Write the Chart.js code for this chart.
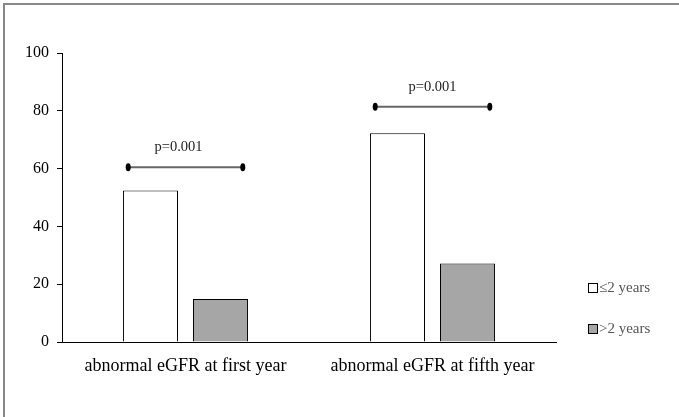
<!DOCTYPE html>
<html>
<head>
<meta charset="utf-8">
<script src="https://cdn.jsdelivr.net/npm/chart.js@4"></script>
<style>
  html, body { margin: 0; padding: 0; background: #fff; }
  #wrap { width: 679px; height: 417px; }
</style>
</head>
<body>
<div id="wrap"><canvas id="eGFRChart" width="679" height="417"></canvas></div>
<script>
const categories = ['abnormal eGFR at first year', 'abnormal eGFR at fifth year'];
const seriesLabels = ['\u22642 years', '>2 years'];
const shortTerm = [52.4, 72.2];
const longTerm = [14.9, 27.2];
const yTicks = [0, 20, 40, 60, 80, 100];
const pLabels = ['p=0.001', 'p=0.001'];
const pLevels = [60.5, 81.4];

const serif = "'Liberation Serif', 'Times New Roman', serif";

// top/left frame line
const framePlugin = {
  id: 'frame',
  beforeDraw(chart) {
    const ctx = chart.ctx;
    ctx.save();
    ctx.strokeStyle = '#888';
    ctx.lineWidth = 2;
    ctx.beginPath();
    ctx.moveTo(4, chart.height);
    ctx.lineTo(4, 4);
    ctx.lineTo(chart.width, 4);
    ctx.stroke();
    ctx.restore();
  }
};

// significance brackets with p values
const sigPlugin = {
  id: 'sig',
  afterDatasetsDraw(chart) {
    const ctx = chart.ctx;
    const x = chart.scales.x, y = chart.scales.y;
    const half = (x.getPixelForValue(1) - x.getPixelForValue(0)) * 0.232;
    ctx.save();
    pLevels.forEach((lvl, i) => {
      const cx = x.getPixelForValue(i);
      const py = y.getPixelForValue(lvl);
      const x0 = cx - half, x1 = cx + half;
      ctx.strokeStyle = '#666';
      ctx.lineWidth = 2;
      ctx.beginPath();
      ctx.moveTo(x0, py);
      ctx.lineTo(x1, py);
      ctx.stroke();
      ctx.fillStyle = '#000';
      [x0, x1].forEach(ex => {
        ctx.beginPath();
        ctx.ellipse(ex, py, 2.5, 4, 0, 0, Math.PI * 2);
        ctx.fill();
      });
      ctx.fillStyle = '#222';
      ctx.font = '14.5px ' + serif;
      ctx.textAlign = 'center';
      ctx.textBaseline = 'middle';
      ctx.fillText(pLabels[i], cx - 7 + i * 7, py - 20);
    });
    ctx.restore();
  }
};

// legend at the lower right
const legendPlugin = {
  id: 'sideLegend',
  afterDraw(chart) {
    const ctx = chart.ctx;
    ctx.save();
    chart.data.datasets.forEach((ds, i) => {
      const top = 284 + i * 41;
      ctx.fillStyle = ds.backgroundColor;
      ctx.fillRect(589, top, 8, 8);
      ctx.strokeStyle = '#000';
      ctx.lineWidth = 1;
      ctx.strokeRect(588.5, top - 0.5, 9, 9);
      ctx.fillStyle = '#555';
      ctx.font = '15px ' + serif;
      ctx.textAlign = 'left';
      ctx.textBaseline = 'middle';
      ctx.fillText(ds.label, 599, top + 4);
    });
    ctx.restore();
  }
};

new Chart(document.getElementById('eGFRChart'), {
  type: 'bar',
  data: {
    labels: categories,
    datasets: [
      {
        label: seriesLabels[0],
        data: shortTerm,
        backgroundColor: '#ffffff',
        borderColor: '#000',
        borderWidth: 1,
        categoryPercentage: 0.567,
        barPercentage: 0.786
      },
      {
        label: seriesLabels[1],
        data: longTerm,
        backgroundColor: '#a6a6a6',
        borderColor: '#000',
        borderWidth: 1,
        categoryPercentage: 0.567,
        barPercentage: 0.786
      }
    ]
  },
  options: {
    responsive: false,
    animation: false,
    layout: { padding: { top: 53, right: 123, bottom: 0, left: 0 } },
    plugins: {
      legend: { display: false },
      tooltip: { enabled: false }
    },
    scales: {
      x: {
        grid: { drawOnChartArea: false, drawTicks: false },
        border: { color: '#000', width: 1 },
        ticks: { color: '#000', font: { family: serif, size: 18 }, padding: 13, maxRotation: 0 },
        afterFit(scale) { scale.height = 75; }
      },
      y: {
        min: 0,
        max: 100,
        afterBuildTicks(scale) { scale.ticks = yTicks.map(v => ({ value: v })); },
        grid: { drawOnChartArea: false, tickLength: 5, color: '#000' },
        border: { color: '#000', width: 1 },
        ticks: { color: '#000', font: { family: serif, size: 16 }, padding: 8 },
        afterFit(scale) { scale.width = 62; }
      }
    }
  },
  plugins: [framePlugin, sigPlugin, legendPlugin]
});
</script>
</body>
</html>
